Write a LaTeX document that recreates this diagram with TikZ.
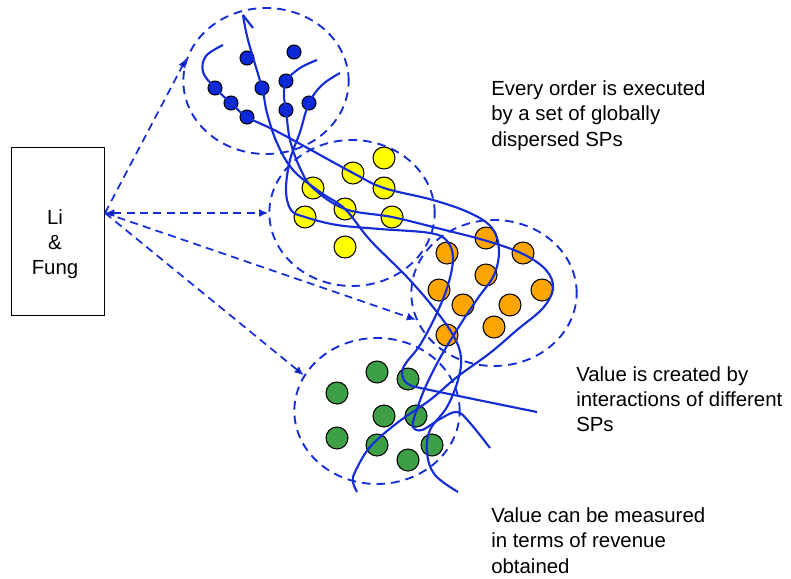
\documentclass[tikz,border=0pt]{standalone}
\usepackage{fontspec}
\setmainfont{Liberation Sans}
\usetikzlibrary{shapes.geometric,arrows.meta}
\definecolor{spblue}{RGB}{10,40,214}
\definecolor{spyellow}{RGB}{255,255,0}
\definecolor{sporange}{RGB}{255,165,0}
\definecolor{spgreen}{RGB}{62,160,70}
\definecolor{linkblue}{RGB}{20,45,214}

\begin{document}
\begin{tikzpicture}[x=0.75pt,y=-0.75pt,>={Latex[length=7pt,width=6pt]},
thin,sp node/.style = {circle,draw,line width=0.8pt,inner sep = 0pt, minimum size = 16.5pt},
small node/.style = {sp node,minimum size = 10.5pt},
group/.style = {ellipse,draw=linkblue,dash pattern=on 6.5pt off 4.5pt,line width=1.4pt,inner sep=0pt,minimum width=124pt,minimum height=109.5pt},
link/.style = {draw=linkblue,line width=1.6pt,line join=round},
call/.style = {draw=linkblue,dash pattern=on 6pt off 4pt,line width=1.3pt},
note/.style = {align=left,anchor=base west,inner sep=0pt,font=\fontsize{15.3}{18.8}\selectfont}]

\useasboundingbox (0,0) rectangle (791,578);

% the four groups of SPs
\node[group] (bset) at (266,81) {};
\node[group] (yset) at (352,213) {};
\node[group] (oset) at (494,293) {};
\node[group] (gset) at (377,411) {};

\node[small node,fill=spblue] (b1) at (247,58) {};
\node[small node,fill=spblue] (b2) at (294,52) {};
\node[small node,fill=spblue] (b3) at (215,88) {};
\node[small node,fill=spblue] (b4) at (262,88) {};
\node[small node,fill=spblue] (b5) at (286,81) {};
\node[small node,fill=spblue] (b6) at (231,103) {};
\node[small node,fill=spblue] (b7) at (247,117) {};
\node[small node,fill=spblue] (b8) at (286,110) {};
\node[small node,fill=spblue] (b9) at (309,103) {};

\node[sp node,fill=spyellow] (y1) at (384,158) {};
\node[sp node,fill=spyellow] (y2) at (353,173) {};
\node[sp node,fill=spyellow] (y3) at (313,188) {};
\node[sp node,fill=spyellow] (y4) at (384,188) {};
\node[sp node,fill=spyellow] (y5) at (345,209) {};
\node[sp node,fill=spyellow] (y6) at (305,217) {};
\node[sp node,fill=spyellow] (y7) at (392,217) {};
\node[sp node,fill=spyellow] (y8) at (345,247) {};

\node[sp node,fill=sporange] (o1) at (486,238) {};
\node[sp node,fill=sporange] (o2) at (447,253) {};
\node[sp node,fill=sporange] (o3) at (523,253) {};
\node[sp node,fill=sporange] (o4) at (486,275) {};
\node[sp node,fill=sporange] (o5) at (439,290) {};
\node[sp node,fill=sporange] (o6) at (542,290) {};
\node[sp node,fill=sporange] (o7) at (463,305) {};
\node[sp node,fill=sporange] (o8) at (510,305) {};
\node[sp node,fill=sporange] (o9) at (494,327) {};
\node[sp node,fill=sporange] (o10) at (447,335) {};

\node[sp node,fill=spgreen] (g1) at (377,372) {};
\node[sp node,fill=spgreen] (g2) at (408,379) {};
\node[sp node,fill=spgreen] (g3) at (337,393) {};
\node[sp node,fill=spgreen] (g4) at (384,416) {};
\node[sp node,fill=spgreen] (g5) at (416,416) {};
\node[sp node,fill=spgreen] (g6) at (337,438) {};
\node[sp node,fill=spgreen] (g7) at (377,445) {};
\node[sp node,fill=spgreen] (g8) at (432,445) {};
\node[sp node,fill=spgreen] (g9) at (408,460) {};

% order threads
\draw[link] plot[smooth,tension=0.6] coordinates {(223,45) (206,56) (203,72) (b3.center) (b6.center) (b7.center) (280,133) (y2.center) (y4.center) (433,200) (470,213) (492,228) (499,250) (494,275) (478,298) (460,325) (440,358) (425,388) (415,415) (413,427) (422,430) (440,419) (457,412) (470,423) (490,448)};
\draw[link] (253,28) -- (243,15);
\draw[link] plot[smooth,tension=0.6] coordinates {(243,15) (248,40) (b4.center) (267,113) (277,143) (293,170) (320,192) (y5.center) (370,240) (407,277) (433,307) (453,335) (461,357) (458,380) (447,407) (430,430) (427,453) (435,475) (458,492)};
\draw[link] plot[smooth,tension=0.6] coordinates {(317,60) (300,68) (b5.center) (284,96) (b8.center) (290,140) (300,168) (y3.center) (y5.center) (y7.center) (437,228) (487,241) (523,254) (546,270) (553,288) (543,308) (517,330) (490,353) (457,377) (430,400) (397,423) (370,447) (355,472) (353,482) (357,492)};
\draw[link] plot[smooth,tension=0.6] coordinates {(340,73) (322,85) (b9.center) (300,132) (290,160) (286,190) (291,210) (y6.center) (337,225) (380,229) (430,233) (447,241) (453,258) (448,285) (436,315) (420,345) (406,363) (402,373) (408,384) (430,390) (537,412)};

% Li & Fung
\node[draw,line width=0.8pt,minimum width=70pt,minimum height=126.5pt] (lf) at (58,231.5) {};
\node[align=center,font=\fontsize{15.3}{18.8}\selectfont] (lftext) at (55,244) {Li\\\&\\Fung};
\coordinate (hub) at (105,213);

\path[call]
(hub) edge[->] (bset.164)
edge[<->] (yset.west)
edge[->] (oset.199)
edge[->] (gset.154);

\node[note] (order) at (491,146) {Every order is executed\\by a set of globally\\dispersed SPs};
\node[note] (value) at (576,431.7) {Value is created by\\interactions of different\\SPs};
\node[note] (revenue) at (491,573) {Value can be measured\\in terms of revenue\\obtained};
\end{tikzpicture}
\end{document}
